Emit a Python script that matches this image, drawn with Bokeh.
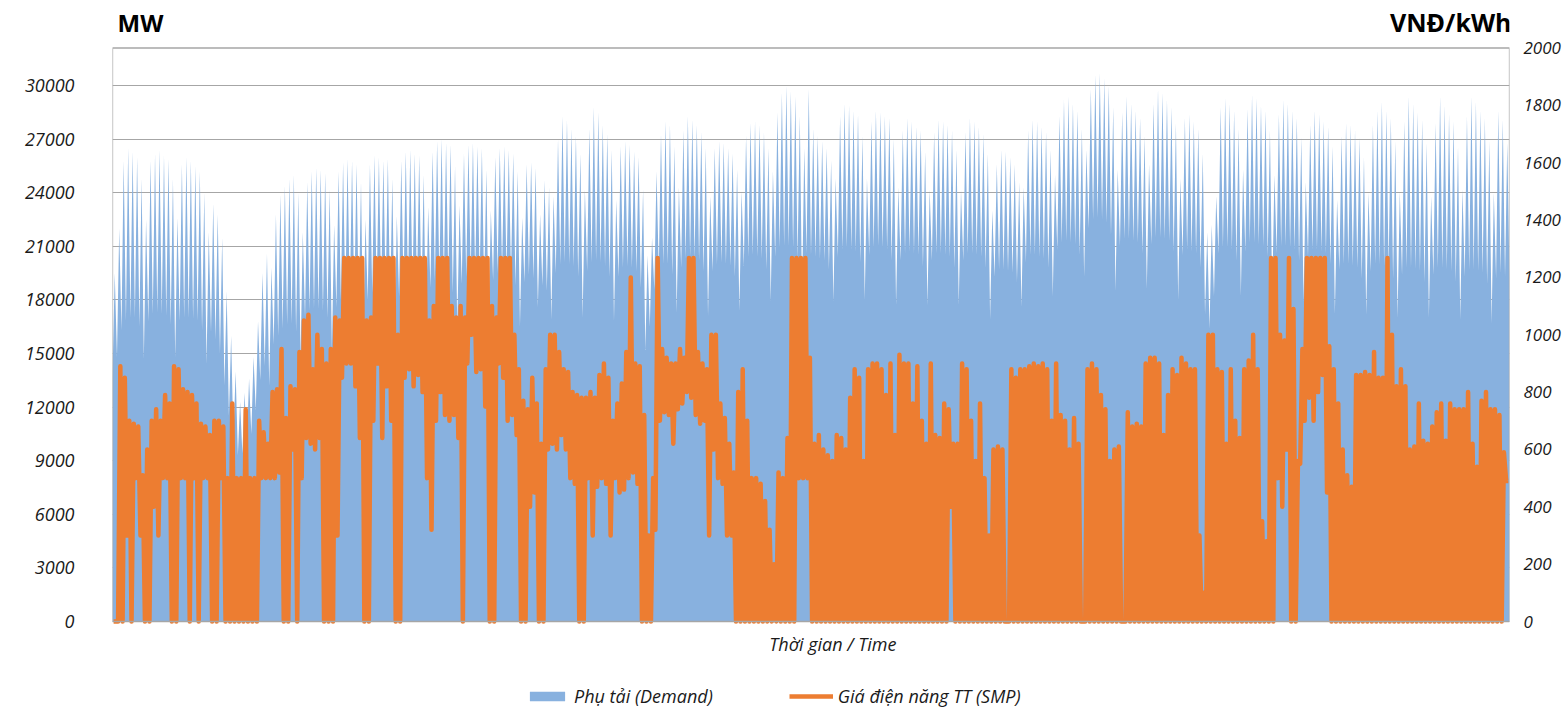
import numpy as np
from bokeh.plotting import figure
from bokeh.models import (Range1d, LinearAxis, FixedTicker, Label, Legend, LegendItem,
                          BoxAnnotation)
from bokeh.embed import file_html
from bokeh.resources import INLINE

# Daily system demand (MW), one row per week (Sun..Sat), from 1 January
demand_high = [
    19500, 22000, 25800, 26500, 26300, 26000, 24800,
    22500, 25800, 26200, 26400, 26100, 25900, 24800,
    22600, 25600, 26000, 25800, 25500, 25200, 24000,
    21800, 23400, 22800, 21500, 18500, 16000, 14000,
    12300, 12800, 13600, 14800, 16800, 19500, 20600,
    19800, 22800, 23900, 24400, 24800, 25000, 24000,
    21800, 24600, 25200, 25400, 25300, 25100, 24200,
    22200, 25200, 25700, 25900, 25800, 25600, 24600,
    22500, 25600, 26100, 26000, 25800, 25900, 24800,
    22700, 25800, 26300, 26400, 26200, 26100, 25000,
    23200, 26300, 26900, 27000, 26800, 26700, 25500,
    23300, 26200, 26700, 26800, 26600, 26500, 25300,
    23000, 26000, 26500, 26600, 26400, 26200, 25200,
    22600, 25600, 25700, 25400, 22800, 24700, 24300,
    23800, 27000, 28300, 28100, 27600, 27200, 26200,
    24200, 27600, 28800, 28500, 27800, 27300, 26400,
    23600, 26600, 26900, 26700, 26300, 26000, 24200,
    20500, 21500, 25200, 27300, 28000, 27800, 26600,
    24300, 27500, 28300, 28100, 27800, 27400, 26500,
    23800, 26500, 26900, 26800, 26500, 26200, 25300,
    24100, 27200, 27900, 28000, 27800, 27400, 26500,
    25200, 28500, 29600, 30000, 29700, 29400, 28300,
    26500, 29800, 27600, 27200, 26900, 26500, 25800,
    24800, 28300, 29000, 28900, 28600, 28400, 27200,
    24800, 28000, 28600, 28500, 28300, 28200, 27000,
    24300, 27500, 28200, 28000, 27700, 27500, 26300,
    24200, 27400, 28100, 28000, 27800, 27500, 26400,
    24200, 27400, 28200, 28000, 27700, 27300, 26200,
    23000, 25600, 26400, 26300, 26000, 25600, 24600,
    24300, 27500, 28100, 28000, 27700, 27400, 26400,
    25000, 28300, 29200, 29400, 29000, 28600, 27600,
    26400, 29800, 30600, 30700, 30400, 30000, 28800,
    25300, 28500, 29400, 29000, 28600, 28200, 27200,
    25600, 29000, 29800, 29600, 29200, 28800, 27900,
    24800, 28200, 28400, 28000, 27600, 26200, 21800,
    22200, 23800, 28800, 29300, 29000, 28600, 27600,
    25300, 28700, 29500, 29300, 28900, 28600, 27500,
    25000, 28400, 29200, 29000, 28600, 28200, 27100,
    24600, 27800, 28600, 28400, 28000, 27700, 26600,
    23600, 27200, 27900, 27800, 27500, 27100, 26000,
    24000, 27800, 28600, 29100, 28600, 28200, 26900,
    24100, 28000, 29400, 29000, 28500, 28100, 26800,
    23800, 27900, 29400, 28900, 28400, 28000, 26600,
    24200, 28300, 29400, 29100, 28600, 28200, 26900,
    24000, 28600, 28100, 26800,
]

demand_low = [
    13700, 14800, 16300, 16800, 17000, 17000, 16500,
    14700, 16800, 17200, 17300, 17200, 17100, 16600,
    14800, 16800, 17000, 17000, 16900, 16800, 16300,
    14400, 16200, 15800, 15000, 13200, 11500, 10200,
    9300, 9400, 9800, 10500, 11800, 13500, 14300,
    13200, 15500, 16000, 16400, 16600, 16700, 16200,
    14700, 17000, 17400, 17500, 17500, 17400, 17000,
    15200, 17600, 18000, 18100, 18000, 17900, 17400,
    15600, 18000, 18400, 18500, 18400, 18400, 17800,
    15800, 18200, 18600, 18600, 18500, 18500, 18000,
    16200, 18700, 19100, 19200, 19100, 19000, 18400,
    16400, 18900, 19300, 19400, 19300, 19200, 18600,
    16600, 19100, 19500, 19600, 19500, 19400, 18800,
    16500, 19000, 19400, 19200, 17600, 18800, 18500,
    16900, 19500, 20000, 20100, 20000, 19900, 19300,
    17000, 19600, 20100, 20200, 20100, 19900, 19300,
    16800, 19300, 19800, 19900, 19800, 19600, 18700,
    15200, 16500, 18600, 19700, 20000, 20000, 19400,
    17300, 19800, 20300, 20400, 20300, 20200, 19600,
    17100, 19600, 20000, 20100, 20000, 19900, 19300,
    17400, 19900, 20400, 20500, 20400, 20300, 19700,
    17900, 20400, 20900, 21000, 21000, 20900, 20300,
    18100, 20600, 20500, 20400, 20300, 20200, 19700,
    17900, 20400, 20800, 20900, 20800, 20700, 20100,
    18000, 20500, 20900, 21000, 20900, 20800, 20200,
    17700, 20200, 20600, 20700, 20600, 20500, 19900,
    17700, 20200, 20600, 20600, 20500, 20400, 19800,
    17700, 20200, 20600, 20600, 20500, 20400, 19800,
    16900, 19300, 19700, 19700, 19600, 19500, 19000,
    17600, 20100, 20500, 20500, 20400, 20300, 19800,
    18200, 20800, 21200, 21300, 21200, 21100, 20500,
    19300, 22000, 22500, 22600, 22500, 22300, 21600,
    18500, 21000, 21400, 21400, 21300, 21200, 20600,
    18600, 21100, 21500, 21500, 21400, 21300, 20700,
    18000, 20500, 20800, 20700, 20600, 19800, 17200,
    16400, 18200, 20600, 20900, 20900, 20800, 20200,
    18200, 20700, 21200, 21200, 21100, 21000, 20400,
    18100, 20600, 21000, 21000, 20900, 20800, 20200,
    17900, 20400, 20800, 20800, 20700, 20600, 20000,
    17200, 19700, 20000, 20000, 19900, 19800, 19200,
    17200, 19600, 20000, 20000, 19900, 19800, 19200,
    17000, 19400, 19800, 19800, 19700, 19600, 19000,
    17000, 19400, 19800, 19800, 19700, 19600, 19000,
    16900, 19300, 19700, 19700, 19600, 19500, 18900,
    16700, 19200, 19500, 19300,
]

# System marginal price (VND/kWh): daily highest and lowest
smp_high = [
    0, 890, 850, 700, 690, 680, 510,
    600, 700, 740, 700, 790, 760, 890,
    880, 810, 800, 790, 760, 690, 680,
    650, 700, 700, 680, 500, 760, 500,
    500, 740, 500, 500, 700, 660, 620,
    800, 810, 950, 710, 820, 810, 940,
    1050, 1070, 880, 1000, 950, 900, 950,
    1060, 1050, 1268, 1268, 1268, 1268, 1268,
    1050, 1060, 1268, 1268, 1268, 1268, 1268,
    1000, 1268, 1268, 1268, 1268, 1268, 1268,
    1050, 1100, 1268, 1268, 1268, 1100, 1060,
    1100, 1060, 1268, 1268, 1268, 1268, 1268,
    1100, 1060, 1268, 1268, 1268, 1000, 880,
    770, 740, 850, 760, 620, 880, 1000,
    1000, 940, 880, 870, 800, 790, 780,
    780, 800, 780, 860, 900, 850, 700,
    760, 830, 940, 1200, 900, 890, 720,
    300, 500, 1268, 950, 920, 900, 900,
    950, 920, 1268, 1268, 940, 900, 880,
    1000, 1000, 760, 710, 620, 520, 800,
    880, 700, 500, 500, 480, 420, 320,
    200, 520, 500, 640, 1268, 1268, 1268,
    1268, 920, 620, 650, 600, 580, 560,
    650, 640, 600, 780, 880, 850, 560,
    880, 900, 900, 880, 790, 900, 650,
    930, 900, 900, 760, 890, 700, 620,
    900, 650, 640, 760, 740, 620, 620,
    900, 880, 700, 560, 760, 500, 300,
    600, 610, 600, 0, 880, 850, 880,
    880, 890, 900, 890, 900, 880, 700,
    900, 720, 700, 600, 710, 620, 0,
    880, 900, 880, 790, 740, 560, 600,
    610, 0, 730, 680, 690, 680, 900,
    920, 920, 900, 650, 790, 880, 860,
    920, 900, 880, 880, 300, 100, 1000,
    1000, 880, 870, 620, 880, 700, 640,
    880, 910, 1000, 880, 350, 280, 1268,
    1268, 1000, 980, 1268, 1090, 560, 950,
    1268, 1268, 1268, 1268, 1268, 960, 880,
    760, 600, 510, 470, 860, 860, 870,
    860, 940, 850, 850, 1268, 1000, 820,
    880, 820, 600, 610, 760, 630, 620,
    680, 730, 760, 630, 760, 740, 740,
    740, 800, 620, 540, 770, 800, 740,
    740, 720, 590, 490,
]

smp_low = [
    0, 0, 0, 300, 0, 500, 300,
    0, 0, 400, 300, 500, 500, 0,
    0, 500, 500, 0, 500, 0, 500,
    500, 0, 0, 500, 0, 0, 0,
    0, 0, 0, 0, 0, 500, 500,
    500, 500, 520, 0, 0, 600, 0,
    500, 640, 620, 600, 640, 0, 0,
    0, 300, 850, 900, 900, 820, 640,
    0, 0, 700, 900, 640, 820, 700,
    0, 0, 850, 880, 820, 860, 800,
    500, 320, 700, 800, 720, 700, 720,
    640, 0, 900, 1000, 870, 880, 750,
    0, 0, 900, 850, 700, 720, 650,
    0, 0, 400, 450, 0, 0, 600,
    620, 600, 650, 600, 500, 480, 0,
    0, 500, 300, 470, 500, 480, 300,
    500, 450, 460, 500, 520, 480, 0,
    0, 0, 320, 700, 730, 720, 620,
    740, 760, 800, 780, 720, 690, 700,
    300, 600, 500, 480, 300, 300, 0,
    0, 0, 0, 0, 0, 0, 0,
    0, 0, 0, 0, 0, 0, 500,
    500, 500, 0, 0, 0, 0, 0,
    0, 0, 0, 0, 0, 0, 0,
    0, 0, 0, 0, 0, 0, 0,
    0, 0, 0, 0, 0, 0, 0,
    0, 0, 0, 0, 0, 400, 0,
    0, 0, 0, 0, 0, 0, 0,
    0, 0, 0, 0, 0, 0, 0,
    0, 0, 0, 0, 0, 0, 0,
    0, 0, 0, 0, 0, 0, 0,
    0, 0, 0, 0, 0, 0, 0,
    0, 0, 0, 0, 0, 0, 0,
    0, 0, 0, 0, 0, 0, 0,
    0, 0, 0, 0, 0, 0, 0,
    0, 0, 0, 0, 0, 0, 0,
    0, 0, 0, 0, 0, 0, 0,
    0, 500, 400, 600, 0, 0, 550,
    700, 780, 700, 800, 860, 450, 0,
    0, 0, 0, 0, 0, 0, 0,
    0, 0, 0, 0, 0, 0, 0,
    0, 0, 0, 0, 0, 0, 0,
    0, 0, 0, 0, 0, 0, 0,
    0, 0, 0, 0, 0, 0, 0,
    0, 0, 0, 490,
]

demand_ticks = list(range(0, 30001, 3000))
smp_ticks = list(range(0, 2001, 200))
DEMAND_MAX = 32100
SMP_MAX = 2000

n_days = len(demand_high)
days = np.arange(n_days)

# Demand outline: overnight level at each day's start, daily peak at mid-day
dem_x = np.append(np.column_stack([days, days + 0.5]).ravel(), n_days)
dem_y = np.append(np.column_stack([demand_low, demand_high]).ravel(), demand_low[-1])

# Price path: low then high within each day
smp_x = np.column_stack([days + 0.25, days + 0.75]).ravel()
smp_y = np.column_stack([smp_low, smp_high]).ravel()

# Canvas geometry: the data frame spans the full height so captions and the
# legend can sit above and below the plotting box
W, H = 1563, 712
BOX_TOP, BOX_BOTTOM = 47.5, 621.0
mw_px = DEMAND_MAX / (BOX_BOTTOM - BOX_TOP)
smp_px = SMP_MAX / (BOX_BOTTOM - BOX_TOP)
y_range = Range1d(-(H - BOX_BOTTOM) * mw_px, DEMAND_MAX + BOX_TOP * mw_px)
smp_range = Range1d(-(H - BOX_BOTTOM) * smp_px, SMP_MAX + BOX_TOP * smp_px)

FONT = "Open Sans"
TEXT = "#1a1a1a"
GRID = "#a6a6a6"

p = figure(width=W, height=H, output_backend="svg", toolbar_location=None,
           x_range=Range1d(0, n_days), y_range=y_range, x_axis_location=None,
           min_border_left=112, min_border_right=48, min_border_top=0,
           min_border_bottom=0)
p.extra_y_ranges = {"smp": smp_range}
p.background_fill_color = "white"
p.border_fill_color = "white"
p.outline_line_color = None

yl = p.yaxis[0]
yl.ticker = FixedTicker(ticks=demand_ticks)
yl.axis_line_color = None
yl.major_tick_line_color = None
yl.minor_tick_line_color = None
yl.major_label_standoff = 32
yl.major_label_text_font = FONT
yl.major_label_text_font_style = "italic"
yl.major_label_text_font_size = "18px"
yl.major_label_text_color = TEXT

yr = LinearAxis(y_range_name="smp", ticker=FixedTicker(ticks=smp_ticks))
yr.axis_line_color = None
yr.major_tick_line_color = None
yr.minor_tick_line_color = None
yr.major_label_standoff = 8
yr.major_label_text_font = FONT
yr.major_label_text_font_style = "italic"
yr.major_label_text_font_size = "17px"
yr.major_label_text_color = TEXT
p.add_layout(yr, "right")

p.xgrid.visible = False
p.ygrid.ticker = FixedTicker(ticks=demand_ticks)
p.ygrid.grid_line_color = GRID
p.ygrid.grid_line_width = 1.2

area = p.varea(x=dem_x, y1=np.zeros(len(dem_x)), y2=dem_y, fill_color="#88b1df")
smp = p.line(smp_x, smp_y, y_range_name="smp", line_color="#ed7d31",
             line_width=4.5, line_join="round")

# Plotting box border
p.add_layout(BoxAnnotation(left=0, right=n_days, bottom=0, top=DEMAND_MAX,
                           fill_alpha=0, line_color=GRID, line_width=1.3,
                           line_alpha=1))

# Unit captions and the time caption
p.add_layout(Label(x=0, y=DEMAND_MAX, x_offset=5, y_offset=26, text="MW",
                   text_font=FONT, text_font_style="bold", text_font_size="24px",
                   text_color="black", text_baseline="alphabetic"))
p.add_layout(Label(x=n_days, y=DEMAND_MAX, x_offset=2, y_offset=26, text="VNĐ/kWh",
                   text_font=FONT, text_font_style="bold", text_font_size="25px",
                   text_color="black", text_align="right", text_baseline="alphabetic"))
p.add_layout(Label(x=(836 - 112) / 4.5, y=0, y_offset=-22, text="Thời gian / Time",
                   text_font=FONT, text_font_style="italic", text_font_size="18px",
                   text_color=TEXT, text_align="center", text_baseline="middle"))

legend = Legend(items=[LegendItem(label="Phụ tải (Demand)", renderers=[area]),
                       LegendItem(label="Giá điện năng TT (SMP)", renderers=[smp])],
                orientation="horizontal", location=(413, 4),
                padding=0, margin=0, spacing=76, label_standoff=5,
                glyph_width=44, glyph_height=12, label_height=20,
                border_line_color=None, background_fill_alpha=0,
                label_text_font=FONT, label_text_font_style="italic",
                label_text_font_size="18px", label_text_color=TEXT)
p.add_layout(legend)

open("out.html", "w").write(file_html(p, INLINE))
